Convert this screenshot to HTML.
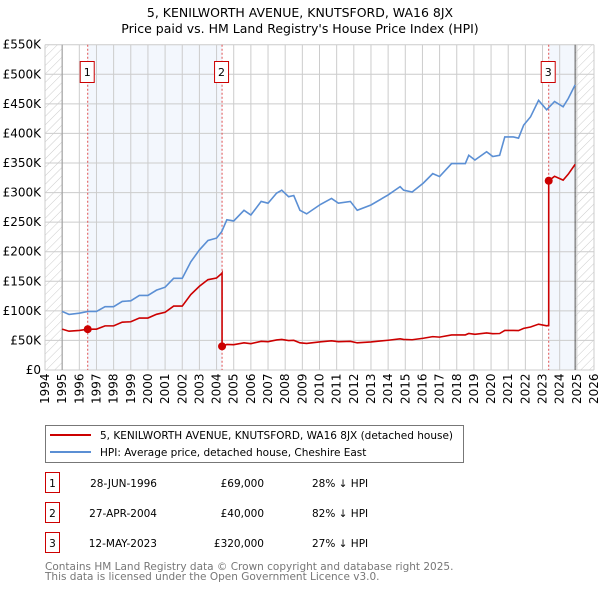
<!DOCTYPE html>
<html><head><meta charset="utf-8"><style>
body{margin:0;background:#fff;font-family:"DejaVu Sans","Liberation Sans",sans-serif;}
svg text{font-family:"DejaVu Sans","Liberation Sans",sans-serif;}
</style></head><body>
<svg id="chart" width="600" height="590" viewBox="0 0 600 590" xmlns="http://www.w3.org/2000/svg">
<defs><pattern id="hatch" patternUnits="userSpaceOnUse" width="6" height="6" patternTransform="rotate(45)"><line x1="0" y1="0" x2="0" y2="6" stroke="#ccc" stroke-width="1"/></pattern></defs>
<text x="300" y="17" text-anchor="middle" font-size="12.5">5, KENILWORTH AVENUE, KNUTSFORD, WA16 8JX</text>
<text x="300" y="33" text-anchor="middle" font-size="12.5">Price paid vs. HM Land Registry's House Price Index (HPI)</text>
<g id="plot"></g>
<g>
<rect x="45.5" y="425.5" width="418" height="37" fill="#fff" stroke="#777"/>
<line x1="50" y1="435" x2="91" y2="435" stroke="#cc0000" stroke-width="2"/>
<text x="100" y="439" font-size="10.5">5, KENILWORTH AVENUE, KNUTSFORD, WA16 8JX (detached house)</text>
<line x1="50" y1="452" x2="91" y2="452" stroke="#5b8fd4" stroke-width="2"/>
<text x="100" y="456" font-size="10.5">HPI: Average price, detached house, Cheshire East</text>
</g>
<g id="table"></g>
<text x="45" y="570" font-size="10.5" fill="#777">Contains HM Land Registry data © Crown copyright and database right 2025.</text>
<text x="45" y="580" font-size="10.5" fill="#777">This data is licensed under the Open Government Licence v3.0.</text>
</svg>
<script>
const hpiYears=[1995,1995.4,1996,1996.5,1997,1997.5,1998,1998.5,1999,1999.5,2000,2000.5,2001,2001.5,2002,2002.5,2003,2003.5,2004,2004.3,2004.6,2005,2005.6,2006,2006.6,2007,2007.5,2007.8,2008.2,2008.5,2008.86,2009.25,2010.06,2010.7,2011.1,2011.8,2012.2,2013.0,2014.0,2014.7,2014.9,2015.4,2016.05,2016.6,2017.0,2017.7,2018.5,2018.7,2019.06,2019.74,2020.1,2020.5,2020.8,2021.3,2021.6,2021.9,2022.3,2022.77,2023.24,2023.7,2024.2,2024.5,2024.9];
const hpiValues=[99,94,96,99,99,107,107,116,117,126,126,135,140,155,155,183,203,219,223,234,254,252,270,262,285,282,299,304,293,295,270,264,280,290,282,285,270,279,296,310,304,301,316,332,327,349,349,363,355,369,361,363,394,394,392,414,428,456,440,454,445,459,482];
const saleDates=[1996.49,2004.32,2023.36];
const salePrices=[69,40,320];
const saleLabels=["28-JUN-1996","27-APR-2004","12-MAY-2023"];
const salePriceText=["£69,000","£40,000","£320,000"];
const saleDiffText=["28% ↓ HPI","82% ↓ HPI","27% ↓ HPI"];
const yTicks=[0,50,100,150,200,250,300,350,400,450,500,550];
const xTickYears=[1994,1995,1996,1997,1998,1999,2000,2001,2002,2003,2004,2005,2006,2007,2008,2009,2010,2011,2012,2013,2014,2015,2016,2017,2018,2019,2020,2021,2022,2023,2024,2025,2026];

const L=45,R=594,T=44.7,B=370;
const x=y=>L+(y-1994)/32*(R-L);
const yv=v=>B-v/550*(B-T);
const NS="http://www.w3.org/2000/svg";
const plot=document.getElementById('plot');
function mk(tag,attrs,parent){const e=document.createElementNS(NS,tag);for(const k in attrs)e.setAttribute(k,attrs[k]);(parent||plot).appendChild(e);return e;}
function hpiAt(t){for(let i=0;i<hpiYears.length-1;i++){if(t<=hpiYears[i+1]){const f=(t-hpiYears[i])/(hpiYears[i+1]-hpiYears[i]);return hpiValues[i]+f*(hpiValues[i+1]-hpiValues[i]);}}return hpiValues[hpiValues.length-1];}
const dataEnd=hpiYears[hpiYears.length-1];
let s1=mk('rect',{x:x(saleDates[0]),y:T,width:x(saleDates[1])-x(saleDates[0]),height:B-T,fill:'#eef3fc',opacity:0.7});


let s2=mk('rect',{x:x(saleDates[2]),y:T,width:x(dataEnd)-x(saleDates[2]),height:B-T,fill:'#eef3fc',opacity:0.7});


let h1=mk('rect',{x:L,y:T,width:x(1995)-L,height:B-T,fill:'url(#hatch)'});


let h2=mk('rect',{x:x(dataEnd),y:T,width:R-x(dataEnd),height:B-T,fill:'url(#hatch)'});


yTicks.forEach(v=>{
 const g=mk('line',{x1:L,x2:R,y1:yv(v),y2:yv(v),stroke:'#ccc','stroke-width':1});
 
 
 const t=mk('text',{x:L-4,y:yv(v)+4,'text-anchor':'end','font-size':12});
 
 
 t.textContent=v===0?'£0':'£'+v+'K';
});
xTickYears.forEach(yr=>{
 const g=mk('line',{x1:x(yr),x2:x(yr),y1:T,y2:B,stroke:'#ccc','stroke-width':1});
 
 
 const t=mk('text',{x:0,y:0,'font-size':12,transform:`translate(${x(yr)+4},${B+34}) rotate(-90)`});
 
 
 t.textContent=yr;
});
let bl=mk('line',{x1:x(1995),x2:x(1995),y1:T,y2:B,stroke:'#999','stroke-width':1});


let el=mk('line',{x1:x(dataEnd),x2:x(dataEnd),y1:T,y2:B,stroke:'#555','stroke-width':1});


saleDates.forEach((d,i)=>{
 const l=mk('line',{x1:x(d),x2:x(d),y1:T,y2:B,stroke:'#e05050','stroke-width':1,'stroke-dasharray':'2,2'});
 
 
 const bx=x(d)-12;
 const r=mk('rect',{x:bx+4.5,y:61.5,width:14,height:21,fill:'#fff',stroke:'#cc0000'});
 
 
 const t=mk('text',{x:bx+11.5,y:76,'text-anchor':'middle','font-size':11});
 
 
 t.textContent=i+1;
});
let pts=hpiYears.map((t,i)=>x(t)+','+yv(hpiValues[i])).join(' ');
let hl=mk('polyline',{points:pts,fill:'none',stroke:'#5b8fd4','stroke-width':1.6});


let rp=[];
const bounds=[1995,...saleDates.slice(1),dataEnd];
for(let s=0;s<3;s++){
 const ratio=salePrices[s]/hpiAt(saleDates[s]);
 const a=bounds[s],b=bounds[s+1];
 const ts=[a,...hpiYears.filter(t=>t>a&&t<b),b];
 ts.forEach(t=>{rp.push(x(t)+','+yv(hpiAt(t)*ratio));});
}
let pl=mk('polyline',{points:rp.join(' '),fill:'none',stroke:'#cc0000','stroke-width':1.6});


saleDates.forEach((d,i)=>{
 const c=mk('circle',{cx:x(d),cy:yv(salePrices[i]),r:4,fill:'#cc0000'});
 
 
});
const tb=document.getElementById('table');
saleDates.forEach((d,i)=>{
 const cy=483+i*30;
 const r=mk('rect',{x:45.5,y:cy-10.5,width:14,height:20,fill:'#fff',stroke:'#cc0000'},tb);
 
 
 const cols=[[52.5,'middle',String(i+1)],[157,'end',saleLabels[i]],[264,'end',salePriceText[i]],[312,'start',saleDiffText[i]]];
 cols.forEach(c=>{
  const t=mk('text',{x:c[0],y:cy+4,'text-anchor':c[1],'font-size':10.5},tb);
  
  
  t.textContent=c[2];
 });
});
</script>
</body></html>
